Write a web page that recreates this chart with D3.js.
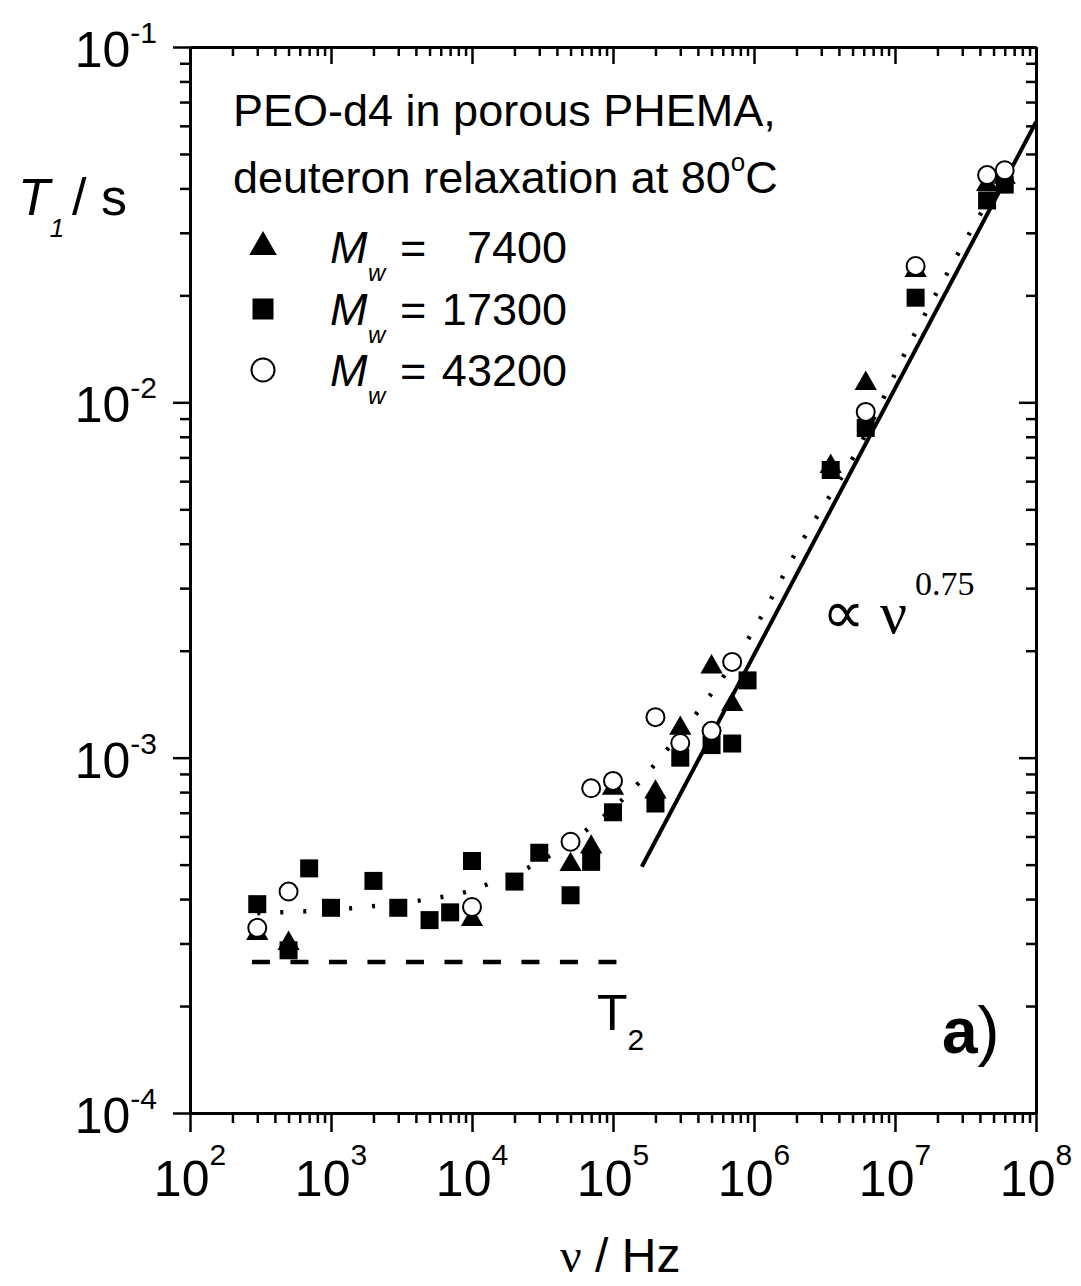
<!DOCTYPE html>
<html>
<head>
<meta charset="utf-8">
<script src="https://cdnjs.cloudflare.com/ajax/libs/d3/7.8.5/d3.min.js"></script>
<style>
body { margin: 0; background: #fff; }
svg text { font-family: "Liberation Sans", Arial, sans-serif; fill: #000; }
.axis path, .axis line { stroke: #000; }
</style>
</head>
<body>
<svg id="chart" width="1081" height="1286"></svg>
<script>
// M_w = 7400 (filled triangles)
var nuTri = [300, 500, 1e4, 5e4, 7e4, 1e5, 2e5, 3e5, 5e5, 7e5, 3.5e6, 6.2e6, 1.4e7, 4.5e7, 6e7];
var t1Tri = [3.2e-4, 3.0e-4, 3.5e-4, 5.0e-4, 5.6e-4, 8.2e-4, 8.0e-4, 1.21e-3, 1.8e-3, 1.41e-3, 6.6e-3, 1.13e-2, 2.35e-2, 4.1e-2, 4.3e-2];

// M_w = 17300 (filled squares)
var nuSq = [300, 500, 700, 1000, 2000, 3000, 5000, 7000, 1e4, 2e4, 3e4, 5e4, 7e4, 1e5, 2e5, 3e5, 5e5, 7e5, 9e5, 3.5e6, 6.2e6, 1.4e7, 4.5e7, 6e7];
var t1Sq = [3.87e-4, 2.87e-4, 4.88e-4, 3.78e-4, 4.5e-4, 3.78e-4, 3.49e-4, 3.67e-4, 5.12e-4, 4.48e-4, 5.4e-4, 4.1e-4, 5.09e-4, 7.02e-4, 7.43e-4, 1.0e-3, 1.085e-3, 1.096e-3, 1.65e-3, 6.45e-3, 8.47e-3, 1.97e-2, 3.7e-2, 4.1e-2];

// M_w = 43200 (open circles)
var nuCirc = [300, 500, 1e4, 5e4, 7e4, 1e5, 2e5, 3e5, 5e5, 7e5, 6.2e6, 1.4e7, 4.5e7, 6e7];
var t1Circ = [3.32e-4, 4.2e-4, 3.8e-4, 5.8e-4, 8.2e-4, 8.6e-4, 1.3e-3, 1.1e-3, 1.19e-3, 1.86e-3, 9.4e-3, 2.42e-2, 4.36e-2, 4.5e-2];

// dotted guide curve
var nuDot = [300, 1400, 4400, 9400, 1.36e4, 2.9e4, 6.1e4, 1.3e5, 2.5e5, 4.6e5, 9.7e5, 2.12e6, 5.65e6, 1.37e7, 2.89e7, 5.56e7];
var t1Dot = [3.65e-4, 3.77e-4, 3.97e-4, 4.21e-4, 4.44e-4, 5.05e-4, 6.14e-4, 7.95e-4, 1.07e-3, 1.45e-3, 2.25e-3, 3.97e-3, 7.58e-3, 1.55e-2, 2.68e-2, 4.22e-2];

// power law nu^0.75 (solid)
var nuFit = [1.6e5, 1e8];
var t1Fit = [4.93e-4, 6.15e-2];

// T2 level (dashed)
var nuT2 = [275, 1.12e5];
var t1T2 = [2.66e-4, 2.66e-4];

var xExp = [2, 3, 4, 5, 6, 7, 8];
var yExp = [-1, -2, -3, -4];

var legendLabels = ["7400", "17300", "43200"];

var svg = d3.select("#chart");
svg.append("rect").attr("width", 1081).attr("height", 1286).attr("fill", "#fff");

var x = d3.scaleLog().domain([1e2, 1e8]).range([190, 1036]);
var y = d3.scaleLog().domain([1e-4, 1e-1]).range([1113, 47]);

var xMajor = xExp.map(function(e) { return Math.pow(10, e); });
var yMajor = yExp.map(function(e) { return Math.pow(10, e); });
var xMinor = x.ticks().filter(function(v) { return xMajor.indexOf(v) < 0 && Math.abs(Math.log10(v) % 1) > 1e-6; });
var yMinor = y.ticks().filter(function(v) { return Math.abs(Math.log10(v) % 1) > 1e-6 && Math.abs(Math.log10(v) % 1) < 1 - 1e-6; });

function drawAxis(gen, tr, vals, size) {
    var g = svg.append("g").attr("class", "axis").attr("transform", tr)
        .call(gen.tickValues(vals).tickSize(size).tickSizeOuter(0).tickFormat(""));
    g.select(".domain").attr("stroke-width", 3);
    g.selectAll(".tick line").attr("stroke-width", 2.5);
    return g;
}

// bottom + top (ticks point down)
drawAxis(d3.axisBottom(x), "translate(0,1113)", xMajor, 19);
drawAxis(d3.axisBottom(x), "translate(0,1113)", xMinor, 10);
drawAxis(d3.axisBottom(x), "translate(0,47)", xMajor, 17);
drawAxis(d3.axisBottom(x), "translate(0,47)", xMinor, 9);
// left + right (ticks point left)
drawAxis(d3.axisLeft(y), "translate(190,0)", yMajor, 17);
drawAxis(d3.axisLeft(y), "translate(190,0)", yMinor, 10);
drawAxis(d3.axisLeft(y), "translate(1036,0)", yMajor, 17);
drawAxis(d3.axisLeft(y), "translate(1036,0)", yMinor, 10);

// tick labels
var xl = svg.append("g").selectAll("text").data(xExp).enter().append("text")
    .attr("x", function(d) { return x(Math.pow(10, d)); })
    .attr("y", 1196)
    .attr("text-anchor", "middle");
xl.append("tspan").style("font-size", "50px").text("10");
xl.append("tspan").style("font-size", "30px").attr("dy", -31).text(function(d) { return d; });

var yl = svg.append("g").selectAll("text").data(yExp).enter().append("text")
    .attr("x", 157)
    .attr("y", function(d) { return y(Math.pow(10, d)) + 20; })
    .attr("text-anchor", "end");
yl.append("tspan").style("font-size", "50px").text("10");
yl.append("tspan").style("font-size", "30px").attr("dy", -24).text(function(d) { return "-" + (-d); });

// axis titles
var yt = svg.append("text").attr("x", 18).attr("y", 215);
yt.append("tspan").style("font-size", "52px").style("font-style", "italic").text("T");
yt.append("tspan").style("font-size", "26px").style("font-style", "italic").attr("dy", 22).text("1");
yt.append("tspan").style("font-size", "52px").attr("dy", -22).attr("x", 72).text("/ s");

var xt = svg.append("text").attr("x", 560).attr("y", 1272);
xt.append("tspan").style("font-size", "48px").style("font-family", "'Liberation Serif', 'Times New Roman', serif").text("\u03bd");
xt.append("tspan").style("font-size", "48px").text(" / Hz");

// lines
function lineOf(nus, ts) {
    return d3.line().x(function(d) { return x(d[0]); }).y(function(d) { return y(d[1]); })(d3.zip(nus, ts));
}

svg.append("path")
    .attr("d", lineOf(nuT2, t1T2))
    .attr("fill", "none").attr("stroke", "#000").attr("stroke-width", 4.5)
    .attr("stroke-dasharray", "18 20.5");

svg.append("path")
    .attr("d", d3.line().curve(d3.curveMonotoneX)
        .x(function(d) { return x(d[0]); }).y(function(d) { return y(d[1]); })(d3.zip(nuDot, t1Dot)))
    .attr("fill", "none").attr("stroke", "#000").attr("stroke-width", 4.5)
    .attr("stroke-dasharray", "3 20");

svg.append("path")
    .attr("d", lineOf(nuFit, t1Fit))
    .attr("fill", "none").attr("stroke", "#000").attr("stroke-width", 4);

// markers
var sq = d3.symbol().type(d3.symbolSquare).size(18 * 18);
var tri = d3.symbol().type(d3.symbolTriangle).size(215);

svg.append("g").selectAll("path").data(d3.zip(nuSq, t1Sq)).enter().append("path")
    .attr("d", sq)
    .attr("transform", function(d) { return "translate(" + x(d[0]) + "," + y(d[1]) + ")"; })
    .attr("fill", "#000");

svg.append("g").selectAll("path").data(d3.zip(nuTri, t1Tri)).enter().append("path")
    .attr("d", tri)
    .attr("transform", function(d) { return "translate(" + x(d[0]) + "," + y(d[1]) + ")"; })
    .attr("fill", "#000");

svg.append("g").selectAll("circle").data(d3.zip(nuCirc, t1Circ)).enter().append("circle")
    .attr("cx", function(d) { return x(d[0]); })
    .attr("cy", function(d) { return y(d[1]); })
    .attr("r", 9)
    .attr("fill", "#fff").attr("stroke", "#000").attr("stroke-width", 2);

// legend / annotation
svg.append("text").attr("x", 233).attr("y", 126).style("font-size", "45px").text("PEO-d4 in porous PHEMA,");
var l2 = svg.append("text").attr("x", 233).attr("y", 193).style("font-size", "45px");
l2.append("tspan").text("deuteron relaxation at 80");
l2.append("tspan").style("font-size", "26px").attr("dy", -22).text("o");
l2.append("tspan").attr("dy", 22).text("C");

var legY = [247, 309, 370];
svg.append("path").attr("d", d3.symbol().type(d3.symbolTriangle).size(330)())
    .attr("transform", "translate(263," + legY[0] + ")").attr("fill", "#000");
svg.append("path").attr("d", d3.symbol().type(d3.symbolSquare).size(21 * 21)())
    .attr("transform", "translate(263," + legY[1] + ")").attr("fill", "#000");
svg.append("circle").attr("cx", 263).attr("cy", legY[2]).attr("r", 11.5)
    .attr("fill", "#fff").attr("stroke", "#000").attr("stroke-width", 2);

var leg = svg.append("g").selectAll("g").data(legendLabels).enter().append("g")
    .attr("transform", function(d, i) { return "translate(0," + (legY[i] + 16) + ")"; });
leg.append("text").attr("x", 330).style("font-size", "45px").style("font-style", "italic").text("M");
leg.append("text").attr("x", 368).attr("y", 18).style("font-size", "24px").style("font-style", "italic").text("w");
leg.append("text").attr("x", 400).style("font-size", "45px").text("=");
leg.append("text").attr("x", 567).attr("text-anchor", "end").style("font-size", "45px").text(function(d) { return d; });

var pl = svg.append("text").attr("x", 822).attr("y", 633)
    .style("font-family", "'Liberation Serif', 'Times New Roman', serif").style("font-size", "60px");
pl.append("tspan").text("\u221d \u03bd");
pl.append("tspan").style("font-size", "34px").attr("x", 915).attr("dy", -38).text("0.75");

var t2 = svg.append("text").attr("x", 597).attr("y", 1030).style("font-size", "50px");
t2.append("tspan").text("T");
t2.append("tspan").style("font-size", "30px").attr("dy", 20).text("2");

var pa = svg.append("text").attr("x", 942).attr("y", 1053);
pa.append("tspan").style("font-size", "64px").style("font-weight", "bold").text("a");
pa.append("tspan").style("font-size", "66px").text(")");
</script>
</body>
</html>
